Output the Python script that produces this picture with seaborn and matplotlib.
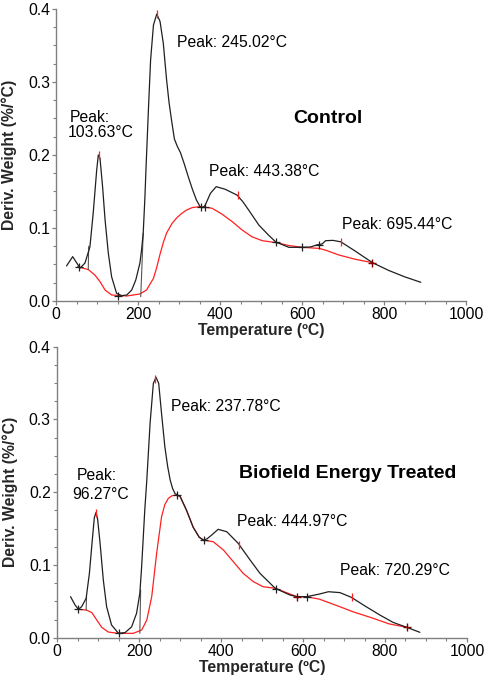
import matplotlib
matplotlib.use("Agg")
import matplotlib.pyplot as plt
import seaborn as sns
import pandas as pd
from matplotlib.ticker import MultipleLocator

# ---------------- data ----------------
ctrl_T = [25, 40, 50, 58, 70, 82, 90, 98.5, 102.5, 106.6, 113, 119, 127, 135, 147, 159.5, 172, 184, 194, 204,
          208, 212, 216, 219, 222, 225, 230, 237, 245, 253, 261, 269, 275, 281, 288, 295, 303, 312, 322, 332,
          342, 351, 358, 363, 376, 390, 412, 441, 455, 469, 494, 518, 535, 567, 600, 620, 637, 648, 657, 675,
          694, 730, 771, 810, 850, 889]
ctrl_dtg = [0.048, 0.0607, 0.052, 0.045, 0.052, 0.074, 0.12, 0.179, 0.2, 0.1955, 0.156, 0.111, 0.065, 0.033,
            0.0105, 0.0073, 0.0082, 0.015, 0.029, 0.052, 0.07, 0.093, 0.14, 0.184, 0.225, 0.266, 0.33, 0.378,
            0.393, 0.383, 0.353, 0.303, 0.272, 0.248, 0.222, 0.212, 0.203, 0.188, 0.170, 0.153, 0.138, 0.129,
            0.128, 0.131, 0.1475, 0.1566, 0.153, 0.145, 0.136, 0.1247, 0.104, 0.090, 0.081, 0.0735, 0.0735,
            0.074, 0.077, 0.078, 0.0826, 0.083, 0.081, 0.068, 0.0525, 0.042, 0.033, 0.0256]
ctrl_bT = [52, 78, 94, 106.6, 119, 135, 172, 204, 220, 237, 245, 253, 261, 269, 282, 294, 306, 318, 332, 347,
           355, 380, 404, 429, 453, 477, 502, 535, 567, 600, 641, 660, 689, 730, 771]
ctrl_base = [0.047, 0.043, 0.0356, 0.0265, 0.015, 0.0082, 0.0068, 0.0096, 0.015, 0.031, 0.046, 0.064, 0.080,
             0.093, 0.106, 0.114, 0.120, 0.1247, 0.128, 0.129, 0.129, 0.127, 0.119, 0.1087, 0.0973, 0.088,
             0.0826, 0.080, 0.076, 0.0735, 0.072, 0.069, 0.063, 0.057, 0.0525]

trt_T = [33, 44, 52, 60, 71, 79, 86, 91, 95, 99, 105, 113, 121, 133, 150, 166, 182, 194, 202, 206, 210, 214,
         219, 227, 235, 241.5, 248, 255, 263, 270, 276, 282, 288, 300, 316, 332, 347, 358, 366, 377, 393, 414,
         442, 471, 495, 532, 568, 585, 609, 640, 662, 690, 718, 750, 788, 820, 853, 885]
trt_dtg = [0.0564, 0.045, 0.039, 0.0426, 0.054, 0.0885, 0.134, 0.165, 0.172, 0.163, 0.13, 0.079, 0.0426,
           0.0175, 0.006, 0.007, 0.015, 0.0335, 0.061, 0.094, 0.134, 0.175, 0.2168, 0.2947, 0.3497, 0.358,
           0.3497, 0.308, 0.2626, 0.235, 0.2168, 0.205, 0.198, 0.1945, 0.175, 0.152, 0.138, 0.134, 0.136,
           0.141, 0.149, 0.1457, 0.1297, 0.1068, 0.0885, 0.068, 0.0587, 0.0564, 0.0564, 0.060, 0.0632, 0.062,
           0.0555, 0.044, 0.031, 0.021, 0.0143, 0.0074]
trt_bT = [52, 72, 85, 97, 109, 125, 150, 186, 206.6, 219, 231, 243, 255, 263, 271.5, 280, 288, 300, 316, 332,
          347, 358, 381, 406, 430, 454, 479, 503, 532, 585, 609, 640, 690, 720, 771, 810, 853]
trt_base = [0.039, 0.038, 0.0344, 0.0243, 0.0143, 0.0078, 0.006, 0.006, 0.0106, 0.0243, 0.0564, 0.116, 0.1663,
            0.183, 0.1916, 0.195, 0.196, 0.1945, 0.175, 0.152, 0.138, 0.134, 0.132, 0.1205, 0.1045, 0.0885,
            0.077, 0.070, 0.068, 0.0564, 0.0564, 0.053, 0.0426, 0.036, 0.0267, 0.019, 0.0143]

# integration limit drop lines
ctrl_drop1_T, ctrl_drop1_y = [78, 79], [0.043, 0.075]
ctrl_drop2_T, ctrl_drop2_y = [206, 212], [0.006, 0.093]
trt_drop1_T, trt_drop1_y = [71, 72], [0.038, 0.056]
trt_drop2_T, trt_drop2_y = [202, 204], [0.006, 0.066]

# markers
ctrl_plus_T = [55, 150, 353, 362, 535, 600, 640]
ctrl_plus_y = [0.046, 0.007, 0.129, 0.129, 0.081, 0.0735, 0.076]
ctrl_dark_T, ctrl_dark_y = [771], [0.0525]
ctrl_peak_T = [103.63, 245.02, 443.38, 695.44]
ctrl_peak_y = [0.2, 0.393, 0.145, 0.081]

trt_plus_T = [52, 150, 292, 358, 535, 609]
trt_plus_y = [0.039, 0.006, 0.196, 0.134, 0.067, 0.0564]
trt_dark_T, trt_dark_y = [585, 853], [0.0564, 0.0143]
trt_peak_T = [96.27, 237.78, 444.97, 720.29]
trt_peak_y = [0.172, 0.356, 0.128, 0.0555]

ctrl_labels = ["Peak:", "103.63°C", "Peak: 245.02°C", "Peak: 443.38°C", "Peak: 695.44°C"]
ctrl_label_x = [82, 108, 294, 372, 696]
ctrl_label_y = [0.252, 0.2305, 0.354, 0.177, 0.105]
ctrl_label_ha = ["center", "center", "left", "left", "left"]
trt_labels = ["Peak:", "96.27°C", "Peak: 237.78°C", "Peak: 444.97°C", "Peak: 720.29°C"]
trt_label_x = [97.6, 107, 277, 439, 690]
trt_label_y = [0.2236, 0.1965, 0.3175, 0.1595, 0.0917]
trt_label_ha = ["center", "center", "left", "left", "left"]

titles = ["Control", "Biofield Energy Treated"]
title_x = [661.5, 708.5]
title_y = [0.250, 0.226]

x_ticks = [0, 200, 400, 600, 800, 1000]
y_ticks = [0.0, 0.1, 0.2, 0.3, 0.4]
xlabel = "Temperature (ºC)"
ylabel = "Deriv. Weight (%/°C)"

# ---------------- style ----------------
sns.set_style("ticks")
plt.rcParams["font.family"] = ["Liberation Sans", "DejaVu Sans"]
plt.rcParams["font.size"] = 11

RED = "#ff2020"
GREY = "#808080"

fig = plt.figure(figsize=(4.89, 6.8), dpi=100)
ax_top = fig.add_axes([0.1151, 0.5574, 0.9536 - 0.1151, 0.9868 - 0.5574])
ax_bot = fig.add_axes([0.1166, 0.0622, 0.955 - 0.1166, 0.4901 - 0.0622])

panels = [
    (ax_top, ctrl_T, ctrl_dtg, ctrl_bT, ctrl_base, [(ctrl_drop1_T, ctrl_drop1_y), (ctrl_drop2_T, ctrl_drop2_y)],
     ctrl_plus_T, ctrl_plus_y, ctrl_dark_T, ctrl_dark_y, ctrl_peak_T, ctrl_peak_y,
     ctrl_labels, ctrl_label_x, ctrl_label_y, ctrl_label_ha, 0),
    (ax_bot, trt_T, trt_dtg, trt_bT, trt_base, [(trt_drop1_T, trt_drop1_y), (trt_drop2_T, trt_drop2_y)],
     trt_plus_T, trt_plus_y, trt_dark_T, trt_dark_y, trt_peak_T, trt_peak_y,
     trt_labels, trt_label_x, trt_label_y, trt_label_ha, 1),
]

for (ax, T, d, bT, b, drops, pT, py, dT, dy, kT, ky, labs, lx, ly, lha, i) in panels:
    sns.lineplot(x=bT, y=b, ax=ax, color=RED, lw=0.9, estimator=None, sort=False)
    for dxT, dxy in drops:
        sns.lineplot(x=dxT, y=dxy, ax=ax, color="#555555", lw=0.8, estimator=None, sort=False)
    sns.lineplot(x=T, y=d, ax=ax, color="#202020", lw=0.9, estimator=None, sort=False)
    ax.plot(pT, py, ls="none", marker="+", ms=6, mew=0.9, color="#202020")
    ax.plot(dT, dy, ls="none", marker="+", ms=6, mew=1.0, color="#800000")
    ax.plot(kT, ky, ls="none", marker="|", ms=6, mew=0.9, color=RED)
    for s, x, y, ha in zip(labs, lx, ly, lha):
        ax.text(x, y, s, ha=ha, va="center", fontsize=11.3, color="black")
    ax.text(title_x[i], title_y[i], titles[i], ha="center", va="center", fontsize=14,
            fontweight="bold", color="black")

    ax.set_xlim(0, 1000)
    ax.set_ylim(0, 0.4)
    ax.set_xticks(x_ticks)
    ax.set_xticklabels([str(v) for v in x_ticks])
    ax.set_yticks(y_ticks)
    ax.set_yticklabels([f"{v:.1f}" for v in y_ticks])
    ax.xaxis.set_minor_locator(MultipleLocator(50))
    ax.yaxis.set_minor_locator(MultipleLocator(0.025))
    ax.tick_params(which="major", direction="out", length=3, width=0.9, color=GREY,
                   labelsize=11.3, labelcolor="black", pad=1.5)
    ax.tick_params(which="minor", direction="out", length=2, width=0.8, color=GREY)
    for side in ["top", "right"]:
        ax.spines[side].set_visible(False)
    for side in ["left", "bottom"]:
        ax.spines[side].set_color(GREY)
        ax.spines[side].set_linewidth(1.0)
    ax.set_xlabel(xlabel, fontsize=11.3, fontweight="bold")
    ax.set_ylabel(ylabel, fontsize=11.3, fontweight="bold")
    ax.xaxis.set_label_coords(0.5, -0.075)
    ax.yaxis.set_label_coords(-0.095, 0.5)
    ax.set_facecolor("white")

fig.patch.set_facecolor("white")
fig.savefig("out.png", dpi=100, facecolor="white")
